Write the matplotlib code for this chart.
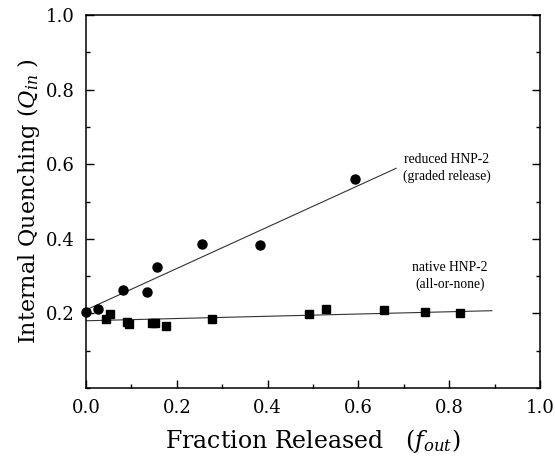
import matplotlib
matplotlib.use("Agg")
import matplotlib.pyplot as plt
import numpy as np
from matplotlib.ticker import MultipleLocator, FixedLocator

plt.rcParams['font.family'] = ['DejaVu Serif']
plt.rcParams['mathtext.fontset'] = 'dejavuserif'

# reduced HNP-2 (graded release) - circles
red_x = [0.001, 0.027, 0.082, 0.134, 0.156, 0.255, 0.383, 0.593]
red_y = [0.203, 0.211, 0.263, 0.258, 0.324, 0.386, 0.383, 0.560]

# native HNP-2 (all-or-none) - squares
nat_x = [0.044, 0.053, 0.090, 0.095, 0.145, 0.152, 0.176, 0.277, 0.491, 0.528, 0.656, 0.746, 0.824]
nat_y = [0.185, 0.198, 0.178, 0.170, 0.173, 0.173, 0.166, 0.184, 0.198, 0.212, 0.208, 0.203, 0.201]

# fitted lines (x range, y at ends)
red_line_x = [0.0, 0.683]
red_line_y = [0.209, 0.589]
nat_line_x = [0.0, 0.894]
nat_line_y = [0.180, 0.207]

xticks = [0.0, 0.2, 0.4, 0.6, 0.8, 1.0]
yticks = [0.2, 0.4, 0.6, 0.8, 1.0]

fig = plt.figure(figsize=(5.55, 4.59), dpi=100)
ax = fig.add_axes([0.155, 0.155, 0.818, 0.812])

ax.plot(red_line_x, red_line_y, color='#333333', lw=0.8)
ax.plot(nat_line_x, nat_line_y, color='#333333', lw=0.8)
ax.plot(red_x, red_y, 'o', color='black', ms=6.5, clip_on=False)
ax.plot(nat_x, nat_y, 's', color='black', ms=5.5, clip_on=False)

ax.set_xlim(0, 1.0)
ax.set_ylim(0, 1.0)
ax.xaxis.set_major_locator(FixedLocator(xticks))
ax.yaxis.set_major_locator(FixedLocator(yticks))
ax.xaxis.set_minor_locator(MultipleLocator(0.1))
ax.yaxis.set_minor_locator(MultipleLocator(0.1))
ax.set_xticklabels([f"{v:.1f}" for v in xticks])
ax.set_yticklabels([f"{v:.1f}" for v in yticks])
ax.tick_params(which='both', direction='in', top=False, right=True, labelsize=13, width=1.0)
ax.tick_params(which='major', length=6, pad=8)
ax.tick_params(which='minor', length=3)
for s in ax.spines.values():
    s.set_linewidth(1.1)

ax.set_xlabel(r"Fraction Released   ($f_{out}$)", fontsize=17, labelpad=7)
ax.set_ylabel(r"Internal Quenching ($Q_{in}$ )", fontsize=16, labelpad=3)

fs = 9.8
ann_font = ['Liberation Serif']
ax.text(0.795, 0.612, "reduced HNP-2", fontsize=fs, family=ann_font, ha='center', va='center')
ax.text(0.795, 0.568, "(graded release)", fontsize=fs, family=ann_font, ha='center', va='center')
ax.text(0.802, 0.322, "native HNP-2", fontsize=fs, family=ann_font, ha='center', va='center')
ax.text(0.802, 0.277, "(all-or-none)", fontsize=fs, family=ann_font, ha='center', va='center')

fig.savefig("out.png", dpi=100)
